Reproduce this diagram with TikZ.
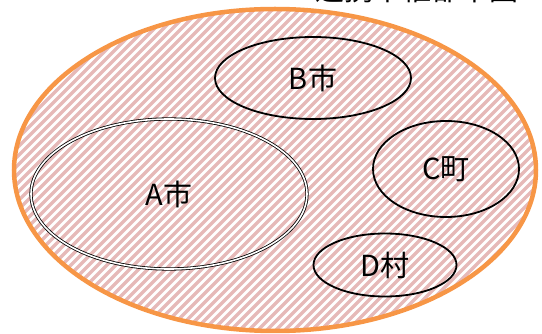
\documentclass[tikz,border=0pt]{standalone}
\usepackage{fontspec}
\setmainfont{Noto Sans CJK JP}
\usetikzlibrary{shapes.geometric}
\definecolor{orng}{HTML}{F79646}
\definecolor{hatch}{HTML}{E6B9B8}
\tikzset{
  region/.style={ellipse, draw=black, line width=1.8pt, inner sep=0pt, font=\fontsize{29}{32}\selectfont},
  mainregion/.style={ellipse, draw=black, line width=0.8pt, double=white, double distance=1.6pt, inner sep=0pt, font=\fontsize{29}{32}\selectfont},
  outerregion/.style={ellipse, draw=orng, line width=4.5pt, inner sep=0pt},
  hatchline/.style={hatch, line width=3.2pt}
}
\begin{document}
\begin{tikzpicture}[x=1pt,y=-1pt]
\useasboundingbox (0,0) rectangle (542,334);
\begin{scope}
  \clip (275,170) ellipse [x radius=261, y radius=161];
  \foreach \x in {-360,-351,...,560} {
    \draw[hatchline] (\x,345) -- ++(360,-360);
  }
\end{scope}
\node[outerregion, minimum width=522pt, minimum height=322pt] (all) at (275,170) {};
\node[region, minimum width=196pt, minimum height=82pt] (b) at (313,78) {B市};
\node[mainregion, minimum width=276pt, minimum height=150pt] (a) at (169,194) {A市};
\node[region, minimum width=146pt, minimum height=96pt] (c) at (446,169) {C町};
\node[region, minimum width=143pt, minimum height=63pt] (d) at (385,265) {D村};
\node[anchor=base, font=\fontsize{29}{32}\selectfont] (title) at (417,0.5) {連携中枢都市圏};
\end{tikzpicture}
\end{document}
